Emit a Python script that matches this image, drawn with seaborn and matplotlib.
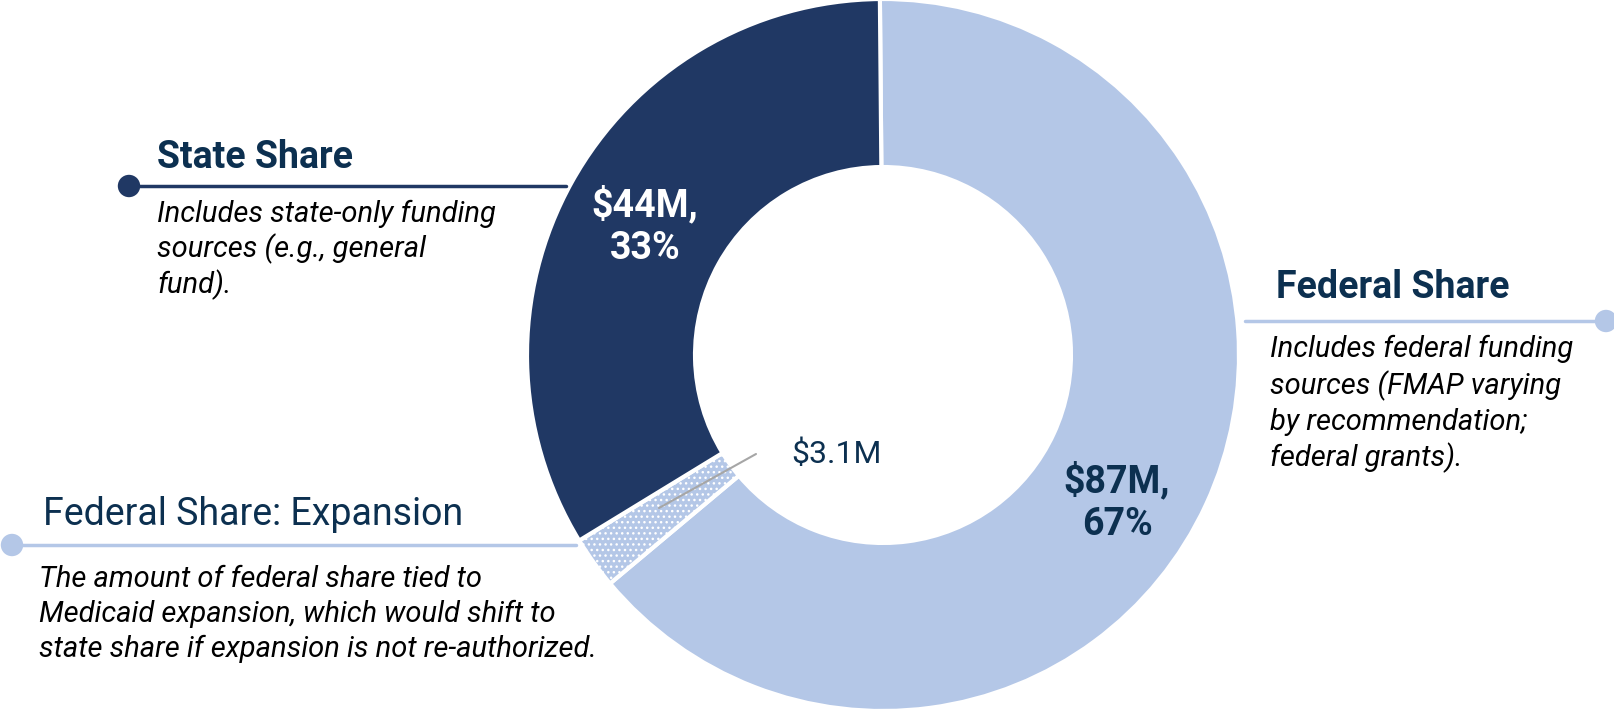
import matplotlib.pyplot as plt
import seaborn as sns

# Valores do gráfico (milhões de dólares)
fatias = ['Federal Share', 'Federal Share: Expansion', 'State Share']
valores = [83.9, 3.1, 44.0]
rotulos = ['$87M,\n67%', '$3.1M', '$44M,\n33%']

titulos = ['State Share', 'Federal Share', 'Federal Share: Expansion']
descricoes = [
    'Includes state-only funding\nsources (e.g., general\nfund).',
    'Includes federal funding\nsources (FMAP varying\nby recommendation;\nfederal grants).',
    'The amount of federal share tied to\nMedicaid expansion, which would shift to\nstate share if expansion is not re-authorized.',
]

azul_claro = '#b4c7e7'
azul_escuro = '#203864'
texto_titulo = '#0c3050'
cores = [azul_claro, azul_claro, azul_escuro]

sns.set_style('white')
plt.rcParams['font.family'] = ['Roboto', 'DejaVu Sans']

W, H = 1614, 712
fig = plt.figure(figsize=(W / 100, H / 100), dpi=100)
ax = fig.add_axes([0, 0, 1, 1])

# Donut
cx, cy, r = 883, 355, 356
wedges, _ = ax.pie(valores, colors=cores, startangle=90.5, counterclock=False,
                   center=(cx, H - cy), radius=r,
                   wedgeprops=dict(width=r * 0.472, edgecolor='white', linewidth=3))
wedges[1].set_hatch('...')
ax.set_xlim(0, W)
ax.set_ylim(0, H)
ax.set_aspect('auto')
ax.axis('off')

# Rótulos das fatias
ax.text(645, H - 226, rotulos[2], color='white', fontsize=27, fontweight='bold',
        ha='center', va='center', linespacing=1.2)
ax.text(1117, H - 502, rotulos[0], color=texto_titulo, fontsize=27, fontweight='bold',
        ha='center', va='center', linespacing=1.2)
ax.text(791, H - 454, rotulos[1], color=texto_titulo, fontsize=23,
        ha='left', va='center')
ax.plot([659, 756], [H - 508, H - 454], color='#a6a6a6', lw=1.5)

# Anotações laterais
# State Share
ax.plot([129, 566], [H - 186, H - 186], color=azul_escuro, lw=2.5)
ax.text(157, H - 168, titulos[0], color=texto_titulo, fontsize=27, fontweight='bold', va='baseline')
ax.text(157, H - 200, descricoes[0], color='black', fontsize=21, style='italic', va='top', linespacing=1.22)

# Federal Share
ax.plot([1245, 1606], [H - 321, H - 321], color=azul_claro, lw=2.5)
ax.text(1276, H - 298, titulos[1], color=texto_titulo, fontsize=27, fontweight='bold', va='baseline')
ax.text(1270, H - 335, descricoes[1], color='black', fontsize=21, style='italic', va='top', linespacing=1.3)

# Federal Share: Expansion
ax.plot([12, 576], [H - 545, H - 545], color=azul_claro, lw=2.5)
ax.text(43, H - 525, titulos[2], color=texto_titulo, fontsize=27, va='baseline')
ax.text(39, H - 565, descricoes[2], color='black', fontsize=21, style='italic', va='top', linespacing=1.3)

# Pontos nas extremidades das linhas
sns.scatterplot(x=[129, 1606, 12], y=[H - 186, H - 321, H - 545],
                hue=['a', 'b', 'c'], palette=[azul_escuro, azul_claro, azul_claro],
                s=260, legend=False, ax=ax, zorder=5, edgecolor='none', clip_on=False)

plt.savefig('out.png', dpi=100)
